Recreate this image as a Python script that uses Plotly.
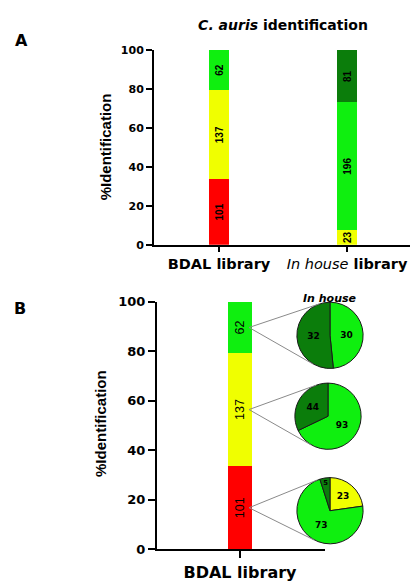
import math
import plotly.graph_objects as go

W, H = 410, 584

# ---------------- data ----------------
categories_a = ["BDAL library", "In house library"]
ticktext_a = ["BDAL library",
              "<span style='font-weight:normal'><i>In house</i></span> library"]
red_counts = [101, 0]
yellow_counts = [137, 23]
green_counts = [62, 196]
darkgreen_counts = [0, 81]

categories_b = ["BDAL library"]
bdal_red = [101]
bdal_yellow = [137]
bdal_green = [62]

# In-house re-identification of each BDAL group
pie_from_green = [30, 32]
pie_from_yellow = [93, 44]
pie_from_red = [23, 73, 5]

y_ticks = [0, 20, 40, 60, 80, 100]

# ---------------- style ----------------
RED = "#FF0000"
YELLOW = "#F0FF00"
GREEN = "#0FEF0F"
DARK = "#0B7D0B"
BOLD = "DejaVu Sans"
ARIAL = "Liberation Sans"


def px_to_paper_x(px):
    return px / W


def px_to_paper_y(py):
    return 1 - py / H


# Panel A geometry (pixels)
A_LEFT, A_RIGHT, A_TOP, A_BOT = 154, 410, 44, 244
# Panel B geometry (pixels)
B_LEFT, B_RIGHT, B_TOP, B_BOT = 157, 325, 302.7, 556.7

fig = go.Figure()

totals_a = [r + y + g + d for r, y, g, d in zip(red_counts, yellow_counts, green_counts, darkgreen_counts)]


def pct(counts, totals):
    return [c / t * 100 for c, t in zip(counts, totals)]


def txt(counts):
    return [str(c) if c > 0 else "" for c in counts]


for counts, color in [(red_counts, RED), (yellow_counts, YELLOW),
                      (green_counts, GREEN), (darkgreen_counts, DARK)]:
    fig.add_trace(go.Bar(
        x=categories_a, y=pct(counts, totals_a), text=txt(counts),
        marker=dict(color=color, line=dict(width=0)), width=0.156,
        textposition="inside", insidetextanchor="middle", textangle=-90,
        constraintext="none",
        textfont=dict(family=ARIAL, size=10, color="black", weight="bold"),
        xaxis="x", yaxis="y", showlegend=False, hoverinfo="skip"))

totals_b = [r + y + g for r, y, g in zip(bdal_red, bdal_yellow, bdal_green)]
for counts, color in [(bdal_red, RED), (bdal_yellow, YELLOW), (bdal_green, GREEN)]:
    fig.add_trace(go.Bar(
        x=categories_b, y=pct(counts, totals_b), text=txt(counts),
        marker=dict(color=color, line=dict(width=0)), width=0.274,
        textposition="inside", insidetextanchor="middle", textangle=-90,
        constraintext="none",
        textfont=dict(family=ARIAL, size=12.5, color="black"),
        xaxis="x2", yaxis="y2", showlegend=False, hoverinfo="skip"))

# ---------------- pies ----------------
R = 34
pies = [
    (pie_from_green, [GREEN, DARK], 330, 337, bdal_red[0] + bdal_yellow[0] + bdal_green[0] / 2),
    (pie_from_yellow, [GREEN, DARK], 328, 420, bdal_red[0] + bdal_yellow[0] / 2),
    (pie_from_red, [YELLOW, GREEN, DARK], 330, 517, bdal_red[0] / 2),
]
shapes = []
for values, colors, cx, cy, mid_count in pies:
    fig.add_trace(go.Pie(
        values=values, sort=False, direction="clockwise", rotation=0,
        marker=dict(colors=colors, line=dict(color="#1a1a1a", width=1)),
        textinfo="value", textposition="inside", insidetextorientation="horizontal",
        textfont=dict(family=BOLD, size=9, color="black", weight="bold"),
        domain=dict(x=[px_to_paper_x(cx - R), px_to_paper_x(cx + R)],
                    y=[px_to_paper_y(cy + R), px_to_paper_y(cy - R)]),
        showlegend=False, hoverinfo="skip"))
    # connector lines from bar label to pie tangents
    ymid = mid_count / totals_b[0] * 100
    py = B_BOT - ymid / 100 * (B_BOT - B_TOP)
    px = 249
    dx, dy = px - cx, py - cy
    d = math.hypot(dx, dy)
    th = math.atan2(dy, dx)
    al = math.acos(R / d)
    for s in (1, -1):
        tx = cx + R * math.cos(th + s * al)
        ty = cy + R * math.sin(th + s * al)
        shapes.append(dict(type="line", xref="paper", yref="paper",
                           x0=px_to_paper_x(px), y0=px_to_paper_y(py),
                           x1=px_to_paper_x(tx), y1=px_to_paper_y(ty),
                           line=dict(color="#8a8a8a", width=1)))

axis_common = dict(showline=True, linewidth=2, linecolor="black", ticks="outside",
                   tickwidth=2, tickcolor="black", showgrid=False, zeroline=False,
                   fixedrange=True)


def ann(text, x, y, size, family=BOLD, angle=0):
    return dict(text=text, x=px_to_paper_x(x), y=px_to_paper_y(y),
                xref="paper", yref="paper", xanchor="center", yanchor="middle",
                showarrow=False, textangle=angle,
                font=dict(family=family, size=size, color="black", weight="bold"))


fig.update_layout(
    width=W, height=H, margin=dict(l=0, r=0, t=0, b=0),
    paper_bgcolor="white", plot_bgcolor="white", barmode="stack",
    xaxis=dict(domain=[px_to_paper_x(A_LEFT), px_to_paper_x(A_RIGHT)], anchor="y",
               type="category", range=[-0.508, 1.492], ticklen=5,
               tickvals=categories_a, ticktext=ticktext_a,
               tickfont=dict(family=BOLD, size=14.5, color="black", weight="bold"),
               **axis_common),
    yaxis=dict(domain=[px_to_paper_y(A_BOT), px_to_paper_y(A_TOP)], anchor="x",
               range=[0, 100], tickvals=y_ticks, ticklen=6,
               tickfont=dict(family=BOLD, size=11, color="black", weight="bold"),
               **axis_common),
    xaxis2=dict(domain=[px_to_paper_x(B_LEFT), px_to_paper_x(B_RIGHT)], anchor="y2",
                type="category", range=[-0.988, 1.012], ticklen=7,
                tickfont=dict(family=BOLD, size=16, color="black", weight="bold"),
                **axis_common),
    yaxis2=dict(domain=[px_to_paper_y(B_BOT), px_to_paper_y(B_TOP)], anchor="x2",
                range=[0, 100], tickvals=y_ticks, ticklen=7,
                tickfont=dict(family=BOLD, size=13, color="black", weight="bold"),
                **axis_common),
    title=dict(text="<i>C. auris</i> identification", x=px_to_paper_x(283),
               xanchor="center", y=px_to_paper_y(19), yanchor="middle",
               xref="paper", yref="paper",
               font=dict(family=BOLD, size=14, color="black", weight="bold")),
    shapes=shapes,
    annotations=[
        ann("A", 21, 34, 16),
        ann("B", 20, 309, 16),
        ann("%Identification", 105, 144, 15, family=ARIAL, angle=-90),
        ann("%Identification", 100, 428, 15, family=ARIAL, angle=-90),
        ann("<i>In house</i>", 330, 299, 11),
    ],
)

fig.write_html("out.html", config={"displayModeBar": False},
               post_script="document.body.style.margin='0';")
